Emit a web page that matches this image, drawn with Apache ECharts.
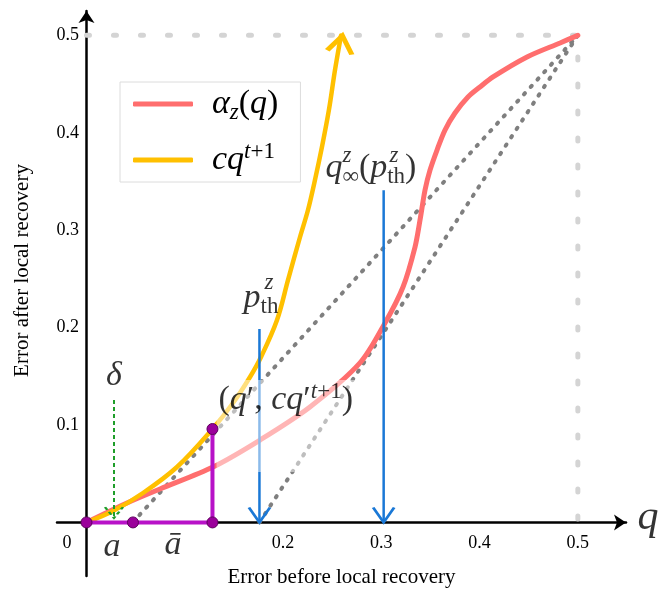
<!DOCTYPE html>
<html>
<head>
<meta charset="utf-8" />
<title>α_z(q) / cq^{t+1}</title>
<script src="https://cdn.jsdelivr.net/npm/echarts@6/dist/echarts.min.js"></script>
<style>
  * { margin: 0; padding: 0; box-sizing: border-box; }
  html, body { width: 658px; height: 595px; background: #fff; overflow: hidden; }
</style>
</head>
<body>
<div id="main" style="width: 658px; height: 595px"></div>
<script>
// ticks
var xTickValues = [0, 0.2, 0.3, 0.4, 0.5];
var xTickLabels = ['0', '0.2', '0.3', '0.4', '0.5'];
var yTickValues = [0.1, 0.2, 0.3, 0.4, 0.5];
var yTickLabels = ['0.1', '0.2', '0.3', '0.4', '0.5'];

// alpha_z(q)
var alphaQ = [0, 0.0412, 0.0748, 0.1287, 0.1766, 0.2274, 0.2783, 0.3038, 0.3221, 0.3343, 0.3394, 0.3445, 0.3496, 0.3567, 0.3648, 0.375, 0.3882, 0.4004, 0.4137, 0.4483, 0.4819, 0.5];
var alphaV = [0, 0.0199, 0.0343, 0.0569, 0.0846, 0.1185, 0.1637, 0.2048, 0.2417, 0.2827, 0.3104, 0.3412, 0.3617, 0.3823, 0.4028, 0.4203, 0.4367, 0.447, 0.4573, 0.4778, 0.4922, 0.5];

// c q^{t+1}
var cqQ = [0, 0.027, 0.0575, 0.0921, 0.1282, 0.1491, 0.1664, 0.1776, 0.1939, 0.2051, 0.2173, 0.2254, 0.2325, 0.2396, 0.2467, 0.2529, 0.259];
var cqV = [0, 0.0117, 0.0302, 0.0569, 0.0959, 0.1226, 0.1493, 0.1698, 0.2078, 0.2489, 0.293, 0.3207, 0.3515, 0.3854, 0.4234, 0.4645, 0.4997];

// dotted guides
var frameQ = [0, 0.5, 0.5];
var frameV = [0.5, 0.5, 0];
var diagAQ = [0.047, 0.5];
var diagAV = [0, 0.5];
var diagBQ = [0.176, 0.5];
var diagBV = [0, 0.5];

// arrows: p_th, q_inf(p_th), delta
var pthQ = 0.176, pthTop = 0.1985;
var qinfQ = 0.3024, qinfTop = 0.341;
var deltaQ = 0.028, deltaTop = 0.1257, deltaTip = 0.0045;

// a, a-bar, (q', cq'^{t+1})
var purpleQ = [0, 0.0473, 0.1282, 0.1282];
var purpleV = [0, 0, 0, 0.0959];

// annotations
var noteText = [
  '{it|p}{sr|th}',
  '{zi|z}',
  '{it|q}{sr|∞}{rm|(}{it|p}{sr|th}{rm|)}',
  '{zi|z}',
  '{zi|z}',
  '{rm|(}{it|q}{rm|′, }{it|cq}{rm|′}{pi|t}{pr|+1}{rm|)}',
  '{it|δ}',
  '{it|a}',
  '{it|ā}',
  '{iq|q}'
];
var noteQ = [0.1593, 0.1857, 0.2427, 0.2650, 0.3128, 0.1318, 0.0280, 0.0259, 0.0880, 0.5713];
var noteV = [0.2303, 0.2457, 0.3638, 0.3761, 0.3761, 0.0990, 0.1503, -0.0252, -0.0231, 0.0045];
var noteLeft = [true, false, true, false, false, true, false, false, false, false];

function zip(a, b) {
  return a.map(function (v, i) { return [v, b[i]]; });
}

var F = 'Liberation Serif';
var mathRich = {
  it: {fontFamily: F, fontStyle: 'italic', fontSize: 34, lineHeight: 40, color: '#000'},
  rm: {fontFamily: F, fontSize: 34, lineHeight: 40, color: '#000'},
  si: {fontFamily: F, fontStyle: 'italic', fontSize: 23, lineHeight: 23, verticalAlign: 'bottom', color: '#000'},
  sr: {fontFamily: F, fontSize: 23, lineHeight: 23, verticalAlign: 'bottom', color: '#000'},
  pi: {fontFamily: F, fontStyle: 'italic', fontSize: 23, lineHeight: 23, verticalAlign: 'top', color: '#000'},
  pr: {fontFamily: F, fontSize: 23, lineHeight: 23, verticalAlign: 'top', color: '#000'},
  zi: {fontFamily: F, fontStyle: 'italic', fontSize: 23, lineHeight: 23, color: '#000'},
  iq: {fontFamily: F, fontStyle: 'italic', fontSize: 42, lineHeight: 46, color: '#000'},
  sp: {width: 14}
};

var alphaName = 'α_z(q)';
var cqName = 'cq^{t+1}';
var legendText = {};
legendText[alphaName] = '{sp| }{it|α}{si|z}{rm|(}{it|q}{rm|)}';
legendText[cqName] = '{sp| }{it|cq}{pi|t}{pr|+1}';

var red = '#ff6e6e';
var yellow = '#ffc000';
var blue = '#1a78d6';
var green = '#1f9e2a';

var chevronUp = 'path://M0,17L12.5,0L25,17';
var chevronDown = 'path://M0,0L10.5,15L21,0';
var chevronSmall = 'path://M0,0L9,11L18,0';

function arrowSeries(q, top, bottom, color, width, dash, head, size, z) {
  return {
    type: 'line',
    z: z,
    silent: true,
    symbol: 'none',
    showSymbol: true,
    lineStyle: {color: color, width: width, type: dash},
    data: [
      [q, top],
      {
        value: [q, bottom],
        symbol: head,
        symbolSize: size,
        symbolOffset: [0, -size[1] / 2],
        itemStyle: {color: 'rgba(0,0,0,0)', borderColor: color, borderWidth: width, borderType: dash}
      }
    ]
  };
}

var cqData = zip(cqQ, cqV);
var last = cqData.pop();
cqData.push({
  value: last,
  symbol: chevronUp,
  symbolSize: [25, 17],
  symbolOffset: [0, 8.5],
  symbolRotate: -10,
  itemStyle: {color: 'rgba(0,0,0,0)', borderColor: yellow, borderWidth: 4.5}
});

var notesData = noteText.map(function (t, i) {
  var item = {
    value: [noteQ[i], noteV[i]],
    label: {
      show: true,
      formatter: t,
      position: noteLeft[i] ? 'right' : 'inside',
      distance: 0,
      align: noteLeft[i] ? 'left' : 'center',
      verticalAlign: 'middle',
      rich: mathRich
    }
  };
  if (i === 5) {
    item.label.backgroundColor = 'rgba(255,255,255,0.62)';
    item.label.padding = [0, 4, 52, 2];
  }
  return item;
});

var myChart = echarts.init(document.getElementById('main'));
var option = {
  animation: false,
  backgroundColor: '#fff',
  grid: {left: 57, right: 32, top: 11, bottom: 19, outerBoundsMode: 'none', containLabel: false},
  legend: {
    orient: 'vertical',
    left: 120,
    top: 82,
    padding: [5, 22, 5, 13],
    icon: 'roundRect',
    itemWidth: 60,
    itemHeight: 5,
    itemGap: 16,
    borderColor: '#dcdcdc',
    borderWidth: 1,
    backgroundColor: '#fff',
    data: [alphaName, cqName],
    formatter: function (name) { return legendText[name]; },
    textStyle: {rich: mathRich},
    selectedMode: false
  },
  xAxis: {
    type: 'value',
    min: -0.03,
    max: 0.549,
    axisLine: {onZero: true, symbol: ['none', 'arrow'], symbolSize: [12, 12], lineStyle: {color: '#000', width: 2.5}},
    axisTick: {show: false},
    splitLine: {show: false},
    axisLabel: {
      customValues: xTickValues,
      // labels stay at the grid edge, pull them up under the zero line
      margin: -42,
      fontFamily: F,
      fontSize: 18,
      color: '#000',
      formatter: function (v) {
        for (var i = 0; i < xTickValues.length; i++) {
          if (Math.abs(v - xTickValues[i]) < 1e-9) {
            return i === 0 ? '{o|' + xTickLabels[i] + '}' : xTickLabels[i];
          }
        }
        return '';
      },
      rich: {o: {fontFamily: F, fontSize: 18, color: '#000', padding: [0, 39, 0, 0]}}
    },
    name: 'Error before local recovery',
    nameLocation: 'middle',
    nameGap: -9,
    nameTextStyle: {fontFamily: F, fontSize: 21, color: '#000'}
  },
  yAxis: {
    type: 'value',
    min: -0.055,
    max: 0.525,
    axisLine: {onZero: true, symbol: ['none', 'arrow'], symbolSize: [12, 12], lineStyle: {color: '#000', width: 2.5}},
    axisTick: {show: false},
    splitLine: {show: false},
    axisLabel: {
      customValues: yTickValues,
      margin: -22,
      fontFamily: F,
      fontSize: 18,
      color: '#000',
      formatter: function (v) {
        for (var i = 0; i < yTickValues.length; i++) {
          if (Math.abs(v - yTickValues[i]) < 1e-9) return yTickLabels[i];
        }
        return '';
      }
    },
    name: 'Error after local recovery',
    nameLocation: 'middle',
    nameGap: 24,
    nameTextStyle: {fontFamily: F, fontSize: 21, color: '#000', padding: [0, 0, 0, 46]}
  },
  series: [
    {
      // light grey frame at 0.5
      type: 'line', z: 1, silent: true, symbol: 'none',
      lineStyle: {color: '#d4d4d4', width: 5, type: [3, 24], cap: 'round'},
      data: zip(frameQ, frameV)
    },
    {
      type: 'line', z: 2, silent: true, symbol: 'none',
      lineStyle: {color: '#7f7f7f', width: 4, type: [1.5, 8.5], cap: 'round'},
      data: zip(diagAQ, diagAV)
    },
    {
      type: 'line', z: 2, silent: true, symbol: 'none',
      lineStyle: {color: '#7f7f7f', width: 4, type: [1.5, 8.5], cap: 'round'},
      data: zip(diagBQ, diagBV)
    },
    {
      name: alphaName,
      type: 'line', z: 3, silent: true, symbol: 'none', smooth: 0.3,
      lineStyle: {color: red, width: 5, cap: 'round'},
      itemStyle: {color: red},
      data: zip(alphaQ, alphaV)
    },
    {
      name: cqName,
      type: 'line', z: 3, silent: true, symbol: 'none', showSymbol: true, smooth: 0.35,
      lineStyle: {color: yellow, width: 4.5, cap: 'round'},
      itemStyle: {color: yellow},
      data: cqData
    },
    arrowSeries(pthQ, pthTop, 0, blue, 2.5, 'solid', chevronDown, [21, 15], 4),
    arrowSeries(qinfQ, qinfTop, 0, blue, 2.5, 'solid', chevronDown, [21, 15], 4),
    arrowSeries(deltaQ, deltaTop, deltaTip, green, 2, [4, 3], chevronSmall, [18, 11], 4),
    {
      type: 'scatter', z: 6, silent: true, clip: false,
      symbolSize: 1,
      itemStyle: {color: 'rgba(0,0,0,0)'},
      data: notesData
    },
    {
      type: 'line', z: 8, silent: true,
      symbol: 'circle', symbolSize: 11, showSymbol: true,
      lineStyle: {color: '#b812c8', width: 4},
      itemStyle: {color: '#9b009b', borderColor: '#5e005e', borderWidth: 1},
      data: zip(purpleQ, purpleV)
    }
  ]
};
myChart.setOption(option);
</script>
</body>
</html>
